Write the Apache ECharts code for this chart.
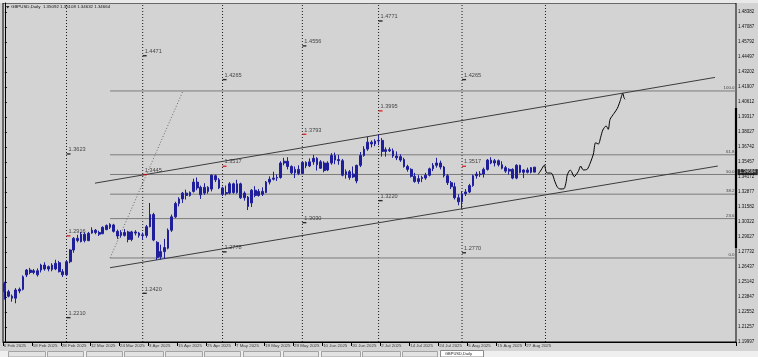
<!DOCTYPE html>
<html><head><meta charset="utf-8">
<script src="https://cdn.jsdelivr.net/npm/echarts@6/dist/echarts.min.js"></script>
<style>html,body{margin:0;padding:0;background:#d3d3d3;}#c{width:758px;height:357px;}</style>
</head><body><div id="c"></div>
<script>
// ---- data ----
const tickLabels = ['6 Feb 2025','18 Feb 2025','28 Feb 2025','12 Mar 2025','24 Mar 2025','3 Apr 2025','15 Apr 2025','25 Apr 2025','7 May 2025','19 May 2025','29 May 2025','10 Jun 2025','20 Jun 2025','2 Jul 2025','14 Jul 2025','24 Jul 2025','5 Aug 2025','15 Aug 2025','27 Aug 2025'];
const tickBars = [0,8,16,24,32,40,48,56,64,72,80,88,96,104,112,120,128,136,144];
const priceLabels = ['1.19997','1.21257','1.22552','1.23847','1.25142','1.26437','1.27732','1.29027','1.30322','1.31582','1.32877','1.34172','1.35457','1.36742','1.38027','1.39317','1.40612','1.41907','1.43202','1.44497','1.45792','1.47087','1.48382'];

const opens = [1.2506,1.2434,1.2395,1.2378,1.2440,1.2455,1.2578,1.2621,1.2600,1.2615,
1.2621,1.2664,1.2630,1.2625,1.2630,1.2684,1.2607,1.2580,1.2693,1.2794,
1.2895,1.2866,1.2930,1.2875,1.2940,1.2965,1.2945,1.2935,1.2970,1.2990,
1.3010,1.2955,1.2920,1.2945,1.2950,1.2885,1.2950,1.2940,1.2920,1.2920,
1.2995,1.3100,1.2860,1.2735,1.2780,1.2810,1.2965,1.3080,1.3195,1.3235,
1.3285,1.3265,1.3300,1.3380,1.3335,1.3285,1.3335,1.3320,1.3435,1.3400,
1.3330,1.3280,1.3285,1.3365,1.3290,1.3365,1.3245,1.3250,1.3200,1.3310,
1.3265,1.3300,1.3290,1.3380,1.3405,1.3415,1.3420,1.3545,1.3560,1.3515,
1.3460,1.3490,1.3455,1.3550,1.3520,1.3555,1.3585,1.3500,1.3545,1.3485,
1.3545,1.3610,1.3575,1.3565,1.3445,1.3470,1.3425,1.3390,1.3525,1.3610,
1.3665,1.3725,1.3710,1.3735,1.3740,1.3645,1.3660,1.3650,1.3605,1.3600,
1.3575,1.3515,1.3490,1.3430,1.3385,1.3410,1.3415,1.3440,1.3495,1.3525,
1.3545,1.3510,1.3435,1.3375,1.3340,1.3245,1.3210,1.3280,1.3295,1.3350,
1.3435,1.3450,1.3450,1.3490,1.3570,1.3545,1.3565,1.3530,1.3505,1.3475,
1.3490,1.3415,1.3525,1.3465,1.3485,1.3465,1.35092];
const highs = [1.2520,1.2450,1.2410,1.2465,1.2470,1.2575,1.2630,1.2640,1.2630,1.2635,
1.2675,1.2688,1.2660,1.2680,1.2710,1.2700,1.2630,1.2705,1.2800,1.2905,
1.2925,1.2950,1.2945,1.2950,1.2990,1.2975,1.2960,1.2998,1.3015,1.3025,
1.3020,1.2970,1.2965,1.2975,1.2960,1.2960,1.2965,1.2950,1.2945,1.3010,
1.3200,1.3115,1.2870,1.2840,1.2890,1.2980,1.3100,1.3210,1.3250,1.3295,
1.3315,1.3300,1.3410,1.3420,1.3350,1.3370,1.3345,1.3445,1.3445,1.3415,
1.3340,1.3350,1.3380,1.3375,1.3400,1.3375,1.3300,1.3260,1.3320,1.3345,
1.3320,1.3335,1.3390,1.3430,1.3470,1.3445,1.3560,1.3590,1.3595,1.3525,
1.3515,1.3525,1.3555,1.3560,1.3585,1.3615,1.3595,1.3570,1.3560,1.3560,
1.3630,1.3635,1.3615,1.3580,1.3490,1.3485,1.3515,1.3530,1.3640,1.3690,
1.3770,1.3740,1.3750,1.3789,1.3760,1.3680,1.3680,1.3670,1.3645,1.3620,
1.3590,1.3530,1.3500,1.3460,1.3440,1.3435,1.3460,1.3505,1.3545,1.3590,
1.3565,1.3520,1.3450,1.3390,1.3375,1.3275,1.3300,1.3320,1.3365,1.3445,
1.3470,1.3475,1.3505,1.3580,1.3595,1.3580,1.3575,1.3560,1.3520,1.3500,
1.3500,1.3535,1.3530,1.3490,1.3505,1.3510,1.35108];
const lows = [1.2365,1.2385,1.2348,1.2334,1.2420,1.2445,1.2560,1.2585,1.2585,1.2565,
1.2600,1.2615,1.2610,1.2610,1.2620,1.2600,1.2561,1.2570,1.2680,1.2770,
1.2860,1.2860,1.2860,1.2870,1.2935,1.2930,1.2915,1.2930,1.2965,1.2975,
1.2945,1.2890,1.2900,1.2910,1.2860,1.2870,1.2920,1.2900,1.2880,1.2900,
1.2990,1.2870,1.2708,1.2712,1.2720,1.2800,1.2950,1.3070,1.3170,1.3200,
1.3230,1.3255,1.3290,1.3310,1.3235,1.3270,1.3280,1.3300,1.3380,1.3320,
1.3260,1.3265,1.3275,1.3280,1.3280,1.3235,1.3220,1.3139,1.3165,1.3250,
1.3255,1.3260,1.3285,1.3360,1.3395,1.3390,1.3410,1.3525,1.3490,1.3450,
1.3415,1.3440,1.3450,1.3500,1.3510,1.3530,1.3480,1.3495,1.3465,1.3475,
1.3530,1.3535,1.3530,1.3430,1.3410,1.3400,1.3415,1.3370,1.3510,1.3600,
1.3650,1.3680,1.3690,1.3700,1.3600,1.3600,1.3640,1.3590,1.3570,1.3555,
1.3505,1.3470,1.3420,1.3375,1.3365,1.3380,1.3400,1.3430,1.3475,1.3505,
1.3490,1.3420,1.3355,1.3320,1.3230,1.3180,1.3150,1.3260,1.3285,1.3340,
1.3410,1.3425,1.3420,1.3480,1.3535,1.3515,1.3515,1.3490,1.3460,1.3445,
1.3405,1.3405,1.3455,1.3415,1.3455,1.3455,1.34632];
const closes = [1.2434,1.2395,1.2378,1.2449,1.2455,1.2563,1.2621,1.2600,1.2615,1.2580,
1.2664,1.2630,1.2650,1.2664,1.2679,1.2607,1.2580,1.2693,1.2794,1.2895,
1.2876,1.2930,1.2875,1.2938,1.2965,1.2945,1.2930,1.2990,1.3005,1.3015,
1.2955,1.2915,1.2945,1.2920,1.2885,1.2950,1.2940,1.2920,1.2925,1.2995,
1.3100,1.2880,1.2730,1.2780,1.2815,1.2965,1.3080,1.3195,1.3235,1.3285,
1.3265,1.3290,1.3380,1.3330,1.3270,1.3335,1.3300,1.3440,1.3400,1.3330,
1.3275,1.3290,1.3365,1.3290,1.3365,1.3245,1.3285,1.3170,1.3310,1.3265,
1.3300,1.3275,1.3380,1.3405,1.3415,1.3420,1.3545,1.3560,1.3515,1.3460,
1.3490,1.3455,1.3550,1.3520,1.3555,1.3585,1.3530,1.3555,1.3480,1.3545,
1.3610,1.3570,1.3565,1.3440,1.3470,1.3420,1.3450,1.3525,1.3610,1.3665,
1.3725,1.3710,1.3735,1.3740,1.3645,1.3660,1.3650,1.3605,1.3590,1.3570,
1.3515,1.3490,1.3430,1.3385,1.3410,1.3420,1.3440,1.3495,1.3525,1.3545,
1.3510,1.3435,1.3375,1.3340,1.3245,1.3210,1.3280,1.3295,1.3350,1.3435,
1.3450,1.3445,1.3490,1.3570,1.3545,1.3565,1.3530,1.3500,1.3475,1.3490,
1.3415,1.3525,1.3465,1.3485,1.3465,1.3505,1.34664];

const currentPrice = 1.34664;
const headerText = 'GBPUSD,Daily  1.35092 1.35108 1.34632 1.34664';

// month separators (bar index) and the three levels printed at each
const monthBars = [17, 38, 60, 82, 103, 126, 149];
const monthHigh = [1.3623, 1.4471, 1.4265, 1.4556, 1.4771, 1.4265];
const monthMid  = [1.2916, 1.3445, 1.3517, 1.3793, 1.3995, 1.3517];
const monthLow  = [1.2210, 1.2420, 1.2778, 1.3030, 1.3220, 1.2770];

// fibonacci retracement
const fibRatios = ['0.0', '23.6', '38.2', '50.0', '61.8', '100.0'];
const fibPrices = [1.2725, 1.3065, 1.3276, 1.3446, 1.3616, 1.4167];
const fibStartBar = 29.0;
const fibAnchorBars = [29.0, 49.1];
const fibAnchorPrices = [1.2725, 1.4167];

// channel trend lines
const upperBars = [24.85, 195.7], upperPrices = [1.3371, 1.4284];
const lowerBars = [29.0, 196.5],  lowerPrices = [1.2641, 1.3519];

// hand-drawn projection
const projBars = [147.0,147.8,148.7,149.3,150.7,151.6,152.3,153.0,154.1,154.7,155.0,155.8,156.2,156.9,158.0,158.7,159.4,160.5,161.3,162.2,162.8,163.6,164.2,164.8,165.7,166.3,166.8,167.9,168.8,169.5,170.3,170.6,170.9];
const projPrices = [1.3448,1.3485,1.3528,1.3461,1.3456,1.3384,1.3335,1.3321,1.3323,1.3384,1.3442,1.3485,1.3470,1.3427,1.3470,1.3519,1.3485,1.3491,1.3543,1.3623,1.3720,1.3709,1.3767,1.3830,1.3865,1.3836,1.3922,1.3974,1.4017,1.4074,1.4147,1.4112,1.4095];

// dark marker on the right edge
const edgeBarPrices = [1.4020, 1.2811];

// ---- chart ----
const N = 202;
const cats = []; for (let i = 0; i < N; i++) cats.push(i);
const yMin = 1.19997, yMax = 1.49264, yInt = 0.01295;
const FONT = 'Liberation Sans';
const XR = N - 0.5;
const tickSet = new Set(tickBars);

const candles = opens.map((o, i) => [o, closes[i], lows[i], highs[i]]);

function seg(data, color, width, type, z) {
  return {type: 'line', xAxisIndex: 1, yAxisIndex: 0, data: data, symbol: 'none', silent: true,
    animation: false, clip: false, z: z || 2,
    lineStyle: {color: color, width: width, type: type || 'solid'}};
}

const series = [];
monthBars.forEach(b => series.push(seg([[b, yMin], [b, yMax]], '#1a1a1a', 1, [1, 2], 1)));
fibPrices.forEach(p => series.push(seg([[fibStartBar, p], [XR, p]], '#7c7c7c', 1, 'solid', 2)));
series.push(seg([[fibAnchorBars[0], fibAnchorPrices[0]], [fibAnchorBars[1], fibAnchorPrices[1]]], '#6a6a6a', 1, [1, 2], 2));
series.push(seg([[upperBars[0], upperPrices[0]], [upperBars[1], upperPrices[1]]], '#3c3c3c', 1, 'solid', 2));
series.push(seg([[lowerBars[0], lowerPrices[0]], [lowerBars[1], lowerPrices[1]]], '#3c3c3c', 1, 'solid', 2));
series.push(seg([[XR, edgeBarPrices[0]], [XR, edgeBarPrices[1]]], '#000', 2.2, 'solid', 6));
const proj = seg(projBars.map((b, i) => [b, projPrices[i]]), '#000', 1, 'solid', 4);
proj.smooth = 0.25;
series.push(proj);

series.push({
  type: 'candlestick', xAxisIndex: 0, yAxisIndex: 0, data: candles, barWidth: '62%',
  animation: false, silent: true, z: 3,
  itemStyle: {color: '#1f1f9c', color0: '#1f1f9c', borderColor: '#1f1f9c', borderColor0: '#1f1f9c', borderWidth: 1}
});

const mItems = [];
for (let j = 0; j < monthHigh.length; j++) {
  mItems.push({value: [monthBars[j], monthHigh[j]], itemStyle: {color: '#000'}});
  mItems.push({value: [monthBars[j], monthMid[j]], itemStyle: {color: '#e00000'}});
  mItems.push({value: [monthBars[j], monthLow[j]], itemStyle: {color: '#000'}});
}
series.push({
  type: 'scatter', xAxisIndex: 1, yAxisIndex: 0, data: mItems, symbol: 'rect', symbolSize: [4, 1.4],
  symbolOffset: [2, 0], silent: true, animation: false, clip: false, z: 5,
  label: {show: true, position: 'right', distance: 0, offset: [-2, -4.3],
    formatter: p => p.value[1].toFixed(4), fontSize: 5.6, color: '#1a1a1a', fontFamily: FONT}
});
series.push({
  type: 'scatter', xAxisIndex: 1, yAxisIndex: 0, symbolSize: 1, silent: true, animation: false, clip: false, z: 5,
  itemStyle: {color: 'rgba(0,0,0,0)'},
  data: fibPrices.map((p, i) => ({value: [XR, p], name: fibRatios[i]})),
  label: {show: true, position: 'left', distance: 1, offset: [0, -3], formatter: p => p.name,
    fontSize: 4.4, color: '#1a1a1a', fontFamily: FONT}
});
series.push({
  type: 'scatter', xAxisIndex: 1, yAxisIndex: 0, symbolSize: 1, silent: true, animation: false, clip: false, z: 7,
  itemStyle: {color: 'rgba(0,0,0,0)'},
  data: [[XR, currentPrice]],
  label: {show: true, position: 'right', distance: 1, formatter: currentPrice.toFixed(5),
    fontSize: 4.5, color: '#fff', backgroundColor: '#000', padding: [1, 2, 0, 2], fontFamily: FONT}
});
// date labels below the axis
series.push({
  type: 'scatter', xAxisIndex: 1, yAxisIndex: 0, symbolSize: 1, silent: true, animation: false, clip: false, z: 7,
  itemStyle: {color: 'rgba(0,0,0,0)'},
  data: tickBars.map((b, i) => ({value: [b, yMin], name: tickLabels[i]})),
  label: {show: true, position: 'bottom', distance: 1.5, align: 'left', offset: [-1, 0], formatter: p => p.name,
    fontSize: 4.4, color: '#111', fontFamily: FONT}
});

const tabs = [[8,45],[47,83],[86,122],[124,163],[165,202],[204,240],[243,280],[283,318],[321,360],[362,400],[402,437]];
const graphics = [
  {type: 'rect', left: 0, top: 0, shape: {width: 758, height: 3}, style: {fill: '#e9e9e9'}, silent: true},
  {type: 'rect', left: 0, top: 351, shape: {width: 758, height: 6}, style: {fill: '#efefef'}, silent: true},
  {type: 'polygon', shape: {points: [[6, 6], [9.5, 6], [7.75, 8.5]]}, style: {fill: '#222'}, silent: true},
  {type: 'text', left: 11, top: 4.6, style: {text: headerText, fontSize: 4.4, fill: '#111', fontFamily: FONT}, silent: true}
];
tabs.forEach(t => graphics.push({type: 'rect', shape: {x: t[0] + 0.5, y: 351.5, width: t[1] - t[0], height: 5.5},
  style: {fill: '#e2e2e2', stroke: '#a3a3a3', lineWidth: 1}, silent: true}));
graphics.push({type: 'rect', shape: {x: 440.5, y: 350.5, width: 43, height: 6.5},
  style: {fill: '#ffffff', stroke: '#8a8a8a', lineWidth: 1}, silent: true});
graphics.push({type: 'text', left: 445, top: 352, style: {text: 'GBPUSD,Daily', fontSize: 4, fill: '#222', fontFamily: FONT}, silent: true});

const chart = echarts.init(document.getElementById('c'), null, {renderer: 'canvas'});
chart.setOption({
  animation: false,
  backgroundColor: '#d3d3d3',
  grid: {left: 3, right: 22, top: 3, bottom: 15, show: true, borderColor: '#000', borderWidth: 1, backgroundColor: '#d3d3d3'},
  xAxis: [{
    type: 'category', data: cats, boundaryGap: true, position: 'bottom',
    axisLine: {show: true, lineStyle: {color: '#000', width: 1}},
    axisTick: {show: true, alignWithLabel: false, length: 4, interval: (i) => tickSet.has(i), lineStyle: {color: '#000'}},
    axisLabel: {show: false},
    splitLine: {show: false}
  }, {
    type: 'value', min: -0.5, max: XR, show: false
  }],
  yAxis: [{
    type: 'value', position: 'right', min: yMin, max: yMax, interval: yInt, scale: true,
    axisLine: {show: true, lineStyle: {color: '#000', width: 1}},
    axisTick: {show: true, length: 2, lineStyle: {color: '#000'}},
    axisLabel: {show: true, margin: 2, showMaxLabel: false, fontSize: 4.5, color: '#111', fontFamily: FONT,
      formatter: v => { const r = (v - yMin) / yInt; const k = Math.round(r); return Math.abs(r - k) < 0.02 && priceLabels[k] ? priceLabels[k] : ''; }},
    splitLine: {show: false}
  }],
  series: series,
  graphic: graphics
});
</script></body></html>
